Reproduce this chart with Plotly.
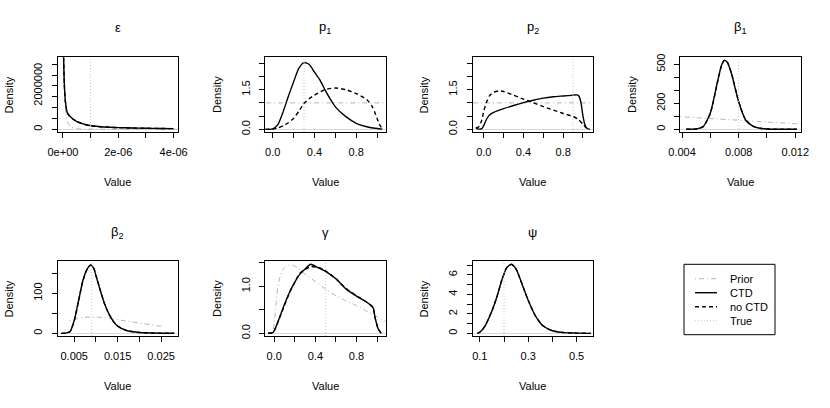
import plotly.graph_objects as go

# ---- values (posterior densities) ----
titles = ["ε", "p<sub>1</sub>", "p<sub>2</sub>", "β<sub>1</sub>", "β<sub>2</sub>", "γ", "ψ"]
true_values = [1e-06, 0.3, 0.9, 0.008, 0.009, 0.5, 0.2]

eps_x = [0.024e-6, 0.05e-6, 0.085e-6, 0.145e-6, 0.2e-6, 0.27e-6, 0.4e-6, 0.51e-6,
         0.7e-6, 0.87e-6, 1.1e-6, 1.35e-6, 1.7e-6, 2.0e-6, 2.5e-6, 3.0e-6, 3.5e-6, 4.0e-6]
eps_ctd = [3.32e6, 2.1e6, 1.35e6, 0.82e6, 0.68e6, 0.58e6, 0.44e6, 0.35e6,
           0.26e6, 0.2e6, 0.15e6, 0.12e6, 0.095e6, 0.077e6, 0.06e6, 0.046e6, 0.037e6, 0.03e6]
eps_noctd = [3.32e6, 2.1e6, 1.34e6, 0.81e6, 0.67e6, 0.57e6, 0.44e6, 0.35e6,
             0.26e6, 0.2e6, 0.15e6, 0.12e6, 0.095e6, 0.077e6, 0.06e6, 0.046e6, 0.037e6, 0.03e6]
eps_prior_x = [0.03e-6, 0.06e-6, 0.1e-6, 0.15e-6, 0.2e-6, 0.3e-6, 0.5e-6, 0.8e-6, 1.2e-6, 4.2e-6]
eps_prior = [3.3e6, 1.8e6, 0.9e6, 0.45e6, 0.25e6, 0.1e6, 0.03e6, 0.008e6, 0.002e6, 0.0]

p1_x = [-0.07, -0.03, 0.0, 0.05, 0.1, 0.15, 0.2, 0.25, 0.3, 0.35, 0.4, 0.45,
        0.5, 0.55, 0.6, 0.7, 0.8, 0.9, 1.0, 1.05]
p1_ctd = [0.0, 0.0, 0.02, 0.18, 0.66, 1.25, 1.79, 2.3, 2.52, 2.45, 2.16, 1.88,
          1.5, 1.15, 0.85, 0.48, 0.23, 0.1, 0.03, 0.01]
p1_noctd_x = [-0.07, 0.0, 0.05, 0.1, 0.15, 0.2, 0.25, 0.3, 0.35, 0.4, 0.5, 0.6,
              0.7, 0.8, 0.9, 0.95, 0.98, 1.0, 1.02, 1.05]
p1_noctd = [0.0, 0.01, 0.05, 0.13, 0.25, 0.41, 0.68, 0.98, 1.16, 1.29, 1.5, 1.56,
            1.5, 1.35, 1.13, 0.88, 0.62, 0.41, 0.2, 0.02]
p1_prior_x = [-0.1, 1.1]
p1_prior = [1.0, 1.0]

p2_x = [-0.08, -0.05, -0.02, 0.0, 0.03, 0.06, 0.1, 0.2, 0.3, 0.4, 0.5, 0.6,
        0.7, 0.8, 0.9, 0.94, 0.96, 0.98, 1.0, 1.02, 1.04, 1.07]
p2_ctd = [0.05, 0.01, 0.03, 0.15, 0.4, 0.55, 0.64, 0.78, 0.9, 1.01, 1.1, 1.18,
          1.23, 1.26, 1.29, 1.3, 1.25, 1.0, 0.5, 0.17, 0.04, 0.0]
p2_noctd_x = [-0.08, -0.05, -0.02, 0.0, 0.03, 0.06, 0.1, 0.15, 0.2, 0.3, 0.4, 0.5,
              0.6, 0.7, 0.8, 0.9, 0.95, 1.0, 1.03, 1.06]
p2_noctd = [0.05, 0.1, 0.35, 0.7, 1.05, 1.28, 1.4, 1.45, 1.43, 1.29, 1.14, 1.0,
            0.86, 0.73, 0.6, 0.49, 0.38, 0.2, 0.06, 0.0]
p2_prior_x = [-0.15, 1.15]
p2_prior = [1.0, 1.0]

b1_x = [0.0043, 0.0047, 0.005, 0.0055, 0.006, 0.0065, 0.0068, 0.007, 0.0072,
        0.0075, 0.008, 0.0085, 0.009, 0.0095, 0.010, 0.011, 0.0121]
b1_ctd = [0.3, 1, 3, 22, 125, 364, 496, 530, 515, 425, 212, 70, 25, 8, 3, 0.6, 0.2]
b1_noctd = [0.3, 1, 3, 21, 122, 360, 494, 532, 517, 428, 214, 71, 25, 8, 3, 0.6, 0.2]
b1_prior_x = [0.0039, 0.006, 0.008, 0.010, 0.0124]
b1_prior = [97, 83, 70, 56, 41]

b2_x = [0.002, 0.003, 0.004, 0.005, 0.006, 0.007, 0.008, 0.0088, 0.0095, 0.010,
        0.011, 0.012, 0.013, 0.014, 0.015, 0.017, 0.020, 0.025, 0.028]
b2_ctd = [0, 0.5, 4, 32, 82, 132, 161, 170, 162, 144, 107, 73, 48, 30, 18, 7, 2, 0.3, 0.1]
b2_noctd = [0, 0.5, 4, 31, 81, 131, 161, 171, 163, 145, 108, 73, 48, 30, 18, 7, 2, 0.3, 0.1]
b2_prior_x = [0.0039, 0.006, 0.009, 0.012, 0.015, 0.018, 0.021, 0.024, 0.0256]
b2_prior = [31, 38, 41, 39, 34, 29, 24, 19, 17]

g_x = [-0.06, -0.01, 0.04, 0.1, 0.15, 0.2, 0.25, 0.3, 0.356, 0.43, 0.49, 0.6,
       0.7, 0.8, 0.9, 0.96, 0.98, 1.01, 1.04]
g_ctd = [0.0, 0.02, 0.27, 0.62, 0.88, 1.09, 1.26, 1.37, 1.47, 1.39, 1.33, 1.16,
         0.94, 0.79, 0.66, 0.55, 0.34, 0.1, 0.0]
g_noctd = [0.0, 0.02, 0.26, 0.6, 0.87, 1.09, 1.28, 1.36, 1.42, 1.4, 1.34, 1.16,
           0.95, 0.8, 0.66, 0.55, 0.34, 0.1, 0.0]
g_prior_x = [-0.02, 0.0, 0.02, 0.04, 0.07, 0.1, 0.15, 0.2, 0.3, 0.4, 0.5, 0.6,
             0.7, 0.8, 0.9, 1.0, 1.09]
g_prior = [0.0, 0.2, 0.7, 1.05, 1.3, 1.4, 1.45, 1.43, 1.26, 1.1, 0.94, 0.8,
           0.69, 0.59, 0.47, 0.35, 0.25]

psi_x = [0.09, 0.1, 0.12, 0.15, 0.17, 0.19, 0.2, 0.21, 0.23, 0.25, 0.28, 0.3,
         0.33, 0.36, 0.4, 0.45, 0.5, 0.56]
psi_ctd = [0, 0.12, 0.7, 2.3, 3.7, 5.4, 6.1, 6.7, 7.1, 6.6, 4.7, 3.4, 1.8, 0.8,
           0.27, 0.08, 0.03, 0.0]
psi_noctd = [0, 0.12, 0.7, 2.3, 3.7, 5.4, 6.1, 6.7, 7.08, 6.6, 4.7, 3.4, 1.8, 0.8,
             0.27, 0.08, 0.03, 0.0]

# all tick positions, and the subset R actually labels (others overlap)
x_tick_all = [
    [0, 1e-6, 2e-6, 3e-6, 4e-6],
    [0, 0.2, 0.4, 0.6, 0.8, 1.0],
    [0, 0.2, 0.4, 0.6, 0.8, 1.0],
    [0.004, 0.006, 0.008, 0.010, 0.012],
    [0.005, 0.010, 0.015, 0.020, 0.025],
    [0, 0.2, 0.4, 0.6, 0.8, 1.0],
    [0.1, 0.2, 0.3, 0.4, 0.5],
]
x_tick_labeled = [
    ([0, 2e-6, 4e-6], ["0e+00", "2e-06", "4e-06"]),
    ([0, 0.4, 0.8], ["0.0", "0.4", "0.8"]),
    ([0, 0.4, 0.8], ["0.0", "0.4", "0.8"]),
    ([0.004, 0.008, 0.012], ["0.004", "0.008", "0.012"]),
    ([0.005, 0.015, 0.025], ["0.005", "0.015", "0.025"]),
    ([0, 0.4, 0.8], ["0.0", "0.4", "0.8"]),
    ([0.1, 0.3, 0.5], ["0.1", "0.3", "0.5"]),
]
y_tick_all = [
    [0, 5e5, 1e6, 1.5e6, 2e6, 2.5e6, 3e6],
    [0, 0.5, 1.0, 1.5, 2.0, 2.5],
    [0, 0.5, 1.0, 1.5, 2.0, 2.5],
    [0, 100, 200, 300, 400, 500],
    [0, 50, 100, 150],
    [0, 0.5, 1.0, 1.5],
    [0, 1, 2, 3, 4, 5, 6, 7],
]
y_tick_labeled = [
    ([0, 2e6], ["0", "2000000"]),
    ([0, 1.5], ["0.0", "1.5"]),
    ([0, 1.5], ["0.0", "1.5"]),
    ([0, 200, 500], ["0", "200", "500"]),
    ([0, 100], ["0", "100"]),
    ([0, 1.0], ["0.0", "1.0"]),
    ([0, 2, 4, 6], ["0", "2", "4", "6"]),
]
legend_labels = ["Prior", "CTD", "no CTD", "True"]

# ---- panel setup ----
panels = [
    dict(ctd=(eps_x, eps_ctd), noctd=(eps_x, eps_noctd), prior=(eps_prior_x, eps_prior),
         xr=[-0.196e-6, 4.167e-6], yr=[-1.25e5, 3.32e6]),
    dict(ctd=(p1_x, p1_ctd), noctd=(p1_noctd_x, p1_noctd), prior=(p1_prior_x, p1_prior),
         xr=[-0.0735, 1.082], yr=[-0.1, 2.72]),
    dict(ctd=(p2_x, p2_ctd), noctd=(p2_noctd_x, p2_noctd), prior=(p2_prior_x, p2_prior),
         xr=[-0.114, 1.103], yr=[-0.1, 2.72]),
    dict(ctd=(b1_x, b1_ctd), noctd=(b1_x, b1_noctd), prior=(b1_prior_x, b1_prior),
         xr=[0.003858, 0.01238], yr=[-20.5, 554]),
    dict(ctd=(b2_x, b2_ctd), noctd=(b2_x, b2_noctd), prior=(b2_prior_x, b2_prior),
         xr=[0.00115, 0.02893], yr=[-6.67, 180]),
    dict(ctd=(g_x, g_ctd), noctd=(g_x, g_noctd), prior=(g_prior_x, g_prior),
         xr=[-0.09, 1.084], yr=[-0.057, 1.532]),
    dict(ctd=(psi_x, psi_ctd), noctd=(psi_x, psi_noctd), prior=None,
         xr=[0.0697, 0.569], yr=[-0.27, 7.4]),
]

W, H = 830, 408
FONT = "Liberation Sans, Arial, Helvetica, sans-serif"
PRIOR_COL = "#b4b4b4"
TRUE_COL = "#c8c8c8"
DASH_PRIOR = "1px,3px,5px,3px"
DASH_NOCTD = "4px,3px"
DASH_TRUE = "1px,2px"


def px(x):
    return x / W


def py(y):
    return 1 - y / H


fig = go.Figure()
layout = dict(
    width=W, height=H, margin=dict(l=0, r=0, t=0, b=0, autoexpand=False),
    paper_bgcolor="white", plot_bgcolor="white", showlegend=False,
    font=dict(family=FONT, size=11, color="black"),
)
shapes, annotations = [], []

for k, p in enumerate(panels):
    r, c = divmod(k, 4)
    left, right = 57.5 + 207.5 * c, 178.2 + 207.5 * c
    top, bottom = 57.3 + 204 * r, 132 + 204 * r
    sfx = "" if k == 0 else str(k + 1)
    xa, ya = "x" + sfx, "y" + sfx

    common = dict(showline=True, mirror=True, linecolor="black", linewidth=1,
                  ticks="outside", ticklen=5, tickcolor="black", showgrid=False,
                  tickfont=dict(size=11), automargin=False, tickmode="array")
    layout["xaxis" + sfx] = dict(common, domain=[px(left), px(right)], range=p["xr"],
                                 anchor=ya, zeroline=False, ticklabelstandoff=5,
                                 tickvals=x_tick_labeled[k][0], ticktext=x_tick_labeled[k][1],
                                 minor=dict(tickmode="array", tickvals=x_tick_all[k],
                                            ticks="outside", ticklen=5, tickcolor="black"))
    layout["yaxis" + sfx] = dict(common, domain=[py(bottom), py(top)], range=p["yr"],
                                 anchor=xa, zeroline=True, zerolinecolor="#d9d9d9",
                                 zerolinewidth=1, tickangle=-90, ticklabelstandoff=5,
                                 tickvals=y_tick_labeled[k][0], ticktext=y_tick_labeled[k][1],
                                 minor=dict(tickmode="array", tickvals=y_tick_all[k],
                                            ticks="outside", ticklen=5, tickcolor="black"))

    if p["prior"] is not None:
        fig.add_trace(go.Scatter(x=p["prior"][0], y=p["prior"][1], mode="lines",
                                 line=dict(color=PRIOR_COL, width=1, dash=DASH_PRIOR,
                                           shape="spline", smoothing=0.6),
                                 xaxis=xa, yaxis=ya))
    fig.add_trace(go.Scatter(x=p["noctd"][0], y=p["noctd"][1], mode="lines",
                             line=dict(color="black", width=1.4, dash=DASH_NOCTD,
                                       shape="spline", smoothing=0.6),
                             xaxis=xa, yaxis=ya))
    fig.add_trace(go.Scatter(x=p["ctd"][0], y=p["ctd"][1], mode="lines",
                             line=dict(color="black", width=1.4,
                                       shape="spline", smoothing=0.6),
                             xaxis=xa, yaxis=ya))
    shapes.append(dict(type="line", xref=xa, yref=ya + " domain",
                       x0=true_values[k], x1=true_values[k], y0=0, y1=1,
                       line=dict(color=TRUE_COL, width=1, dash=DASH_TRUE)))

    cx = (left + right) / 2
    annotations.append(dict(text=titles[k], x=px(cx), y=py(28 + 204 * r),
                            font=dict(size=13)))
    annotations.append(dict(text="Value", x=px(cx), y=py(182 + 204 * r)))
    annotations.append(dict(text="Density", x=px(left - 48.7), y=py((top + bottom) / 2),
                            textangle=-90))

# legend drawn in the empty eighth cell
lx0, lx1, ly0, ly1 = 684, 775, 264.3, 334.7
shapes.append(dict(type="rect", xref="paper", yref="paper", x0=px(lx0), x1=px(lx1),
                   y0=py(ly1), y1=py(ly0), line=dict(color="black", width=1)))
leg_styles = [(PRIOR_COL, DASH_PRIOR, 1), ("black", "solid", 1.4),
              ("black", DASH_NOCTD, 1.4), (TRUE_COL, DASH_TRUE, 1)]
for i, (lab, (col, dash, w)) in enumerate(zip(legend_labels, leg_styles)):
    yy = 278.7 + 14 * i
    shapes.append(dict(type="line", xref="paper", yref="paper", x0=px(695), x1=px(717),
                       y0=py(yy), y1=py(yy), line=dict(color=col, width=w, dash=dash)))
    annotations.append(dict(text=lab, x=px(727.5), y=py(yy), xanchor="left"))

for a in annotations:
    a.update(xref="paper", yref="paper", showarrow=False, yanchor="middle")
    a.setdefault("xanchor", "center")

layout["shapes"] = shapes
layout["annotations"] = annotations
fig.update_layout(**layout)
# page body has an 8px default margin; drop it so the figure fills the window
fig.write_html("out.html", config={"displayModeBar": False},
               post_script="document.body.style.margin='0px';")
